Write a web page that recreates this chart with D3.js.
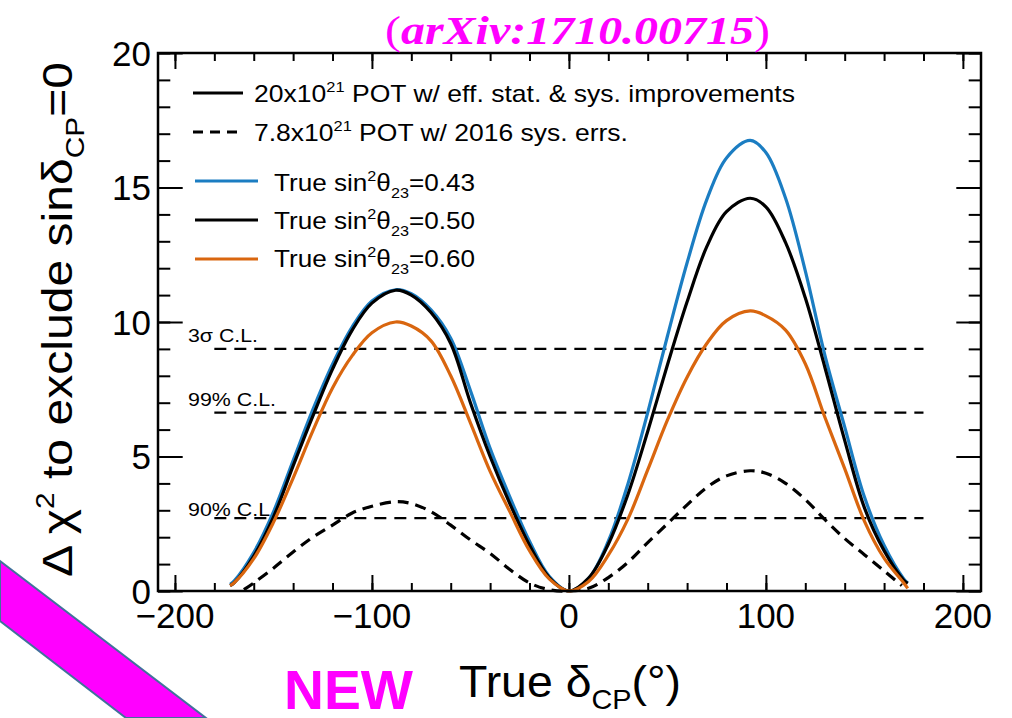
<!DOCTYPE html>
<html>
<head>
<meta charset="utf-8">
<script src="https://cdn.jsdelivr.net/npm/d3@7"></script>
<style>
  html, body { margin: 0; padding: 0; background: #fff; }
  text { font-family: "Liberation Sans", Arial, sans-serif; fill: #000; }
</style>
</head>
<body>
<script>
// true delta_CP (degrees) and delta chi^2 to exclude sin(delta_CP)=0
const deltaSolid = [-172, -170, -160, -150, -140, -130, -120, -110, -100, -88, -80, -70, -60, -50, -40, -30, -20, -10,
                    0, 10, 20, 30, 40, 50, 60, 70, 80, 92, 100, 110, 120, 130, 140, 150, 160, 170, 172]
const chi2Sin043 = [0.25, 0.37, 1.43, 2.94, 4.85, 6.74, 8.43, 9.82, 10.78, 11.2, 11.05, 10.45, 9.4, 7.45, 5.3, 3.5, 1.85, 0.55,
                    0, 0.47, 1.85, 3.99, 6.63, 9.47, 12.2, 14.55, 16.1, 16.75, 16.3, 14.6, 11.9, 8.75, 6.1, 3.5, 1.7, 0.45, 0.3]
const chi2Sin050 = [0.2, 0.3, 1.3, 2.75, 4.65, 6.5, 8.25, 9.7, 10.7, 11.18, 11.0, 10.35, 9.2, 7.0, 5.0, 3.25, 1.7, 0.5,
                    0, 0.48, 1.74, 3.6, 5.93, 8.4, 10.75, 12.8, 14.1, 14.6, 14.28, 12.95, 10.9, 8.3, 5.6, 3.1, 1.5, 0.4, 0.28]
const chi2Sin060 = [0.2, 0.3, 1.2, 2.55, 4.2, 5.95, 7.55, 8.75, 9.6, 10.0, 9.85, 9.3, 8.0, 6.25, 4.45, 2.95, 1.5, 0.45,
                    0, 0.35, 1.33, 2.68, 4.5, 6.35, 7.95, 9.2, 10.05, 10.41, 10.23, 9.7, 8.45, 6.45, 4.55, 2.6, 1.22, 0.3, 0.1]
const deltaDashed = [-165, -160, -150, -140, -130, -120, -110, -100, -88, -80, -70, -60, -50, -40, -30, -20, -10,
                     0, 10, 20, 30, 40, 50, 60, 70, 80, 92, 100, 110, 120, 130, 140, 150, 160, 169]
const chi2Pot78 = [0.05, 0.3, 0.85, 1.45, 2.0, 2.45, 2.9, 3.15, 3.32, 3.25, 2.95, 2.45, 1.9, 1.4, 0.8, 0.3, 0.05,
                   0, 0.1, 0.5, 1.07, 1.8, 2.5, 3.2, 3.85, 4.28, 4.47, 4.38, 4.0, 3.4, 2.65, 1.95, 1.35, 0.75, 0.2]

const clLevels = [9.0, 6.63, 2.71]
const clNames = ["3σ C.L.", "99% C.L.", "90% C.L."]
const clSpan = [-180, 180]

const xMajor = [-200, -100, 0, 100, 200]
const yMajor = [0, 5, 10, 15, 20]

function main(){

    let width = 1012
    let height = 718
    let box = {left: 158, right: 981, top: 53, bottom: 591}

    let x = d3.scaleLinear().domain([-208.6, 209.2]).range([box.left, box.right])
    let y = d3.scaleLinear().domain([0, 20]).range([box.bottom, box.top])

    let svg = d3.select('body').append('svg')
        .attr('width', width)
        .attr('height', height)

    // magenta corner ribbon
    svg.append('polygon')
        .attr('points', '0,561 206,718 126,718 0,621')
        .attr('fill', '#ff00ff')
        .attr('stroke', '#41719c')
        .attr('stroke-width', 2)

    // helper for text with super/subscripts
    function rich(sel, parts, size){
        let shift = 0
        parts.forEach(function(p){
            let s = p[1] || ''
            let target = s == 'sup' ? -0.42*size : s == 'sub' ? 0.28*size : 0
            let t = sel.append('tspan').text(p[0]).attr('dy', target - shift)
            if (s) t.attr('font-size', size*0.62)
            shift = target
        })
    }

    // minor + major ticks, all pointing inward (ROOT style)
    let xMinor = d3.range(-200, 201, 20)
    let yMinor = d3.range(0, 21, 1)
    let tickW = 2

    function ticks(axis, vals, len){
        let g = svg.append('g')
            .attr('transform', axis == 'bottom' ? 'translate(0,' + box.bottom + ')' :
                               axis == 'top' ? 'translate(0,' + box.top + ')' :
                               axis == 'left' ? 'translate(' + box.left + ',0)' : 'translate(' + box.right + ',0)')
        let a = axis == 'bottom' ? d3.axisBottom(x) : axis == 'top' ? d3.axisTop(x) :
                axis == 'left' ? d3.axisLeft(y) : d3.axisRight(y)
        a.tickValues(vals).tickSize(-len).tickSizeOuter(0).tickFormat('')
        g.call(a)
        g.select('.domain').remove()
        g.selectAll('.tick line').attr('stroke', '#000').attr('stroke-width', tickW)
        return g
    }
    ticks('bottom', xMinor, 8); ticks('bottom', xMajor, 16)
    ticks('top', xMinor, 8); ticks('top', xMajor, 16)
    ticks('left', yMinor, 12.3); ticks('left', yMajor, 24.7)
    ticks('right', yMinor, 12.3); ticks('right', yMajor, 24.7)

    // tick labels
    svg.append('g').selectAll('text')
        .data(xMajor).enter().append('text')
        .attr('x', function(d){ return x(d) })
        .attr('y', 628)
        .attr('text-anchor', 'middle')
        .attr('font-size', 35)
        .text(function(d){ return d < 0 ? '\u2212' + Math.abs(d) : d })

    svg.append('g').selectAll('text')
        .data(yMajor).enter().append('text')
        .attr('x', box.left - 7)
        .attr('y', function(d){ return y(d) })
        .attr('dy', '0.36em')
        .attr('text-anchor', 'end')
        .attr('font-size', 35)
        .text(function(d){ return d })

    // confidence level lines
    let clg = svg.append('g')
    clg.selectAll('line').data(clLevels).enter().append('line')
        .attr('x1', x(clSpan[0])).attr('x2', x(clSpan[1]))
        .attr('y1', function(d){ return y(d) }).attr('y2', function(d){ return y(d) })
        .attr('stroke', '#000')
        .attr('stroke-width', 2.2)
        .attr('stroke-dasharray', '12,8')
    clg.selectAll('text').data(clLevels).enter().append('text')
        .attr('x', 188)
        .attr('y', function(d, i){ return y(d) - (i == 2 ? 2 : 7) })
        .attr('font-size', 18)
        .attr('textLength', function(d, i){ return i == 0 ? 70 : 88 })
        .attr('lengthAdjust', 'spacingAndGlyphs')
        .text(function(d, i){ return clNames[i] })

    // curves
    let line = d3.line()
        .x(function(d){ return x(d[0]) })
        .y(function(d){ return y(d[1]) })
        .curve(d3.curveCatmullRom.alpha(0.5))

    let curves = [
        {xs: deltaDashed, ys: chi2Pot78, color: '#000', dash: '11,7'},
        {xs: deltaSolid, ys: chi2Sin043, color: '#1b7dc2', dash: null},
        {xs: deltaSolid, ys: chi2Sin050, color: '#000', dash: null},
        {xs: deltaSolid, ys: chi2Sin060, color: '#d9660f', dash: null}
    ]
    svg.append('g').selectAll('path')
        .data(curves).enter().append('path')
        .attr('d', function(c){ return line(d3.zip(c.xs, c.ys)) })
        .attr('fill', 'none')
        .attr('stroke', function(c){ return c.color })
        .attr('stroke-width', 3.2)
        .attr('stroke-dasharray', function(c){ return c.dash })

    // frame
    svg.append('rect')
        .attr('x', box.left).attr('y', box.top)
        .attr('width', box.right - box.left).attr('height', box.bottom - box.top)
        .attr('fill', 'none')
        .attr('stroke', '#000')
        .attr('stroke-width', 2.5)

    // legend
    let leg = svg.append('g')
    let legRows = [
        {y: 93, x1: 193, x2: 243, color: '#000', dash: null, tx: 254, base: 102, w: 541,
         parts: [['20x10'], ['21', 'sup'], [' POT w/ eff. stat. & sys. improvements']]},
        {y: 132, x1: 193, x2: 243, color: '#000', dash: '10,7', tx: 254, base: 141, w: 374,
         parts: [['7.8x10'], ['21', 'sup'], [' POT w/ 2016 sys. errs.']]},
        {y: 181, x1: 195, x2: 258, color: '#1b7dc2', dash: null, tx: 274, base: 191, w: 201,
         parts: [['True sin'], ['2', 'sup'], ['θ'], ['23', 'sub'], ['=0.43']]},
        {y: 220, x1: 195, x2: 258, color: '#000', dash: null, tx: 274, base: 229, w: 201,
         parts: [['True sin'], ['2', 'sup'], ['θ'], ['23', 'sub'], ['=0.50']]},
        {y: 259, x1: 195, x2: 258, color: '#d9660f', dash: null, tx: 274, base: 267, w: 201,
         parts: [['True sin'], ['2', 'sup'], ['θ'], ['23', 'sub'], ['=0.60']]}
    ]
    legRows.forEach(function(r){
        leg.append('line')
            .attr('x1', r.x1).attr('x2', r.x2).attr('y1', r.y).attr('y2', r.y)
            .attr('stroke', r.color).attr('stroke-width', 3.2)
            .attr('stroke-dasharray', r.dash)
        let t = leg.append('text')
            .attr('x', r.tx).attr('y', r.base)
            .attr('font-size', 24)
            .attr('textLength', r.w)
            .attr('lengthAdjust', 'spacingAndGlyphs')
        rich(t, r.parts, 24)
    })

    // axis titles
    let xt = svg.append('text')
        .attr('x', 459).attr('y', 697)
        .attr('font-size', 44)
        .attr('textLength', 222)
        .attr('lengthAdjust', 'spacingAndGlyphs')
    rich(xt, [['True δ'], ['CP', 'sub'], ['(°)']], 44)

    let yt = svg.append('text')
        .attr('transform', 'translate(72,577) rotate(-90)')
        .attr('font-size', 43)
        .attr('textLength', 515)
        .attr('lengthAdjust', 'spacingAndGlyphs')
    rich(yt, [['Δ χ'], ['2', 'sup'], [' to exclude sinδ'], ['CP', 'sub'], ['=0']], 43)

    // reference and NEW tag
    let ref = svg.append('text')
        .attr('x', 385).attr('y', 44)
        .attr('font-size', 40)
        .attr('textLength', 385)
        .attr('lengthAdjust', 'spacingAndGlyphs')
        .style('font-family', '"Liberation Serif", "Times New Roman", serif')
        .style('fill', '#ff00ff')
    ref.append('tspan').text('(')
    ref.append('tspan').text('arXiv:1710.00715').attr('font-weight', 'bold').attr('font-style', 'italic')
    ref.append('tspan').text(')')

    svg.append('text')
        .attr('x', 284).attr('y', 709)
        .attr('font-size', 56)
        .attr('font-weight', 'bold')
        .attr('textLength', 129)
        .attr('lengthAdjust', 'spacingAndGlyphs')
        .style('fill', '#ff00ff')
        .text('NEW')
}

main()
</script>
</body>
</html>
